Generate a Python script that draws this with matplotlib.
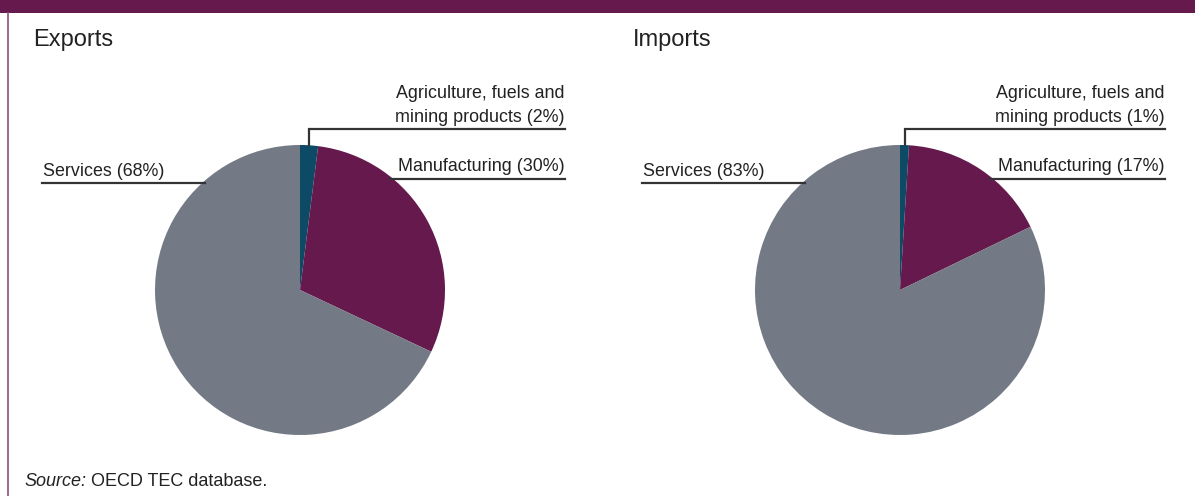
import matplotlib.pyplot as plt
import numpy as np

# Shares of trade by sector (percent)
sectors = ["Agriculture, fuels and\nmining products", "Manufacturing", "Services"]
exports_share = [2, 30, 68]
imports_share = [1, 17, 83]
panel_titles = ["Exports", "Imports"]
source_note = "OECD TEC database."

colors = ["#0c4a66", "#65194c", "#737a85"]
text_color = "#222222"
line_color = "#333333"
frame_color = "#65194c"

plt.rcParams["font.family"] = ["Liberation Sans", "DejaVu Sans"]

W, H = 1195, 496
fig = plt.figure(figsize=(W / 100, H / 100), dpi=100)
ax = fig.add_axes([0, 0, 1, 1])

radius = 145
label_size = 12.9


def draw_panel(x0, shares, title):
    cx, cy = x0 + 300, H - 290
    wedges, _ = ax.pie(shares, colors=colors, startangle=90, counterclock=False,
                       center=(cx, cy), radius=radius, frame=False,
                       wedgeprops=dict(linewidth=0))
    ax.text(x0 + 33, H - 40, title, fontsize=17, color=text_color,
            va="center", ha="left")

    right_end = x0 + 565
    # Agriculture: vertical leader from wedge middle, then horizontal rule
    w = wedges[0]
    mid = np.deg2rad((w.theta1 + w.theta2) / 2)
    px, py = cx + radius * np.cos(mid), cy + radius * np.sin(mid)
    y_rule = H - 129
    ax.plot([px, px, right_end], [py, y_rule, y_rule], color=line_color, lw=1.6,
            solid_joinstyle="miter")
    ax.text(right_end, y_rule + 3, f"{sectors[0]} ({shares[0]}%)", fontsize=label_size,
            color=text_color, ha="right", va="bottom", linespacing=1.55)

    # Manufacturing: horizontal rule from the pie edge
    y_rule = H - 179
    dy = y_rule - cy
    ex = cx + np.sqrt(radius ** 2 - dy ** 2)
    ax.plot([ex - 3, right_end], [y_rule, y_rule], color=line_color, lw=1.6)
    ax.text(right_end, y_rule + 4, f"{sectors[1]} ({shares[1]}%)", fontsize=label_size,
            color=text_color, ha="right", va="bottom")

    # Services: horizontal rule running into the pie edge
    y_rule = H - 183
    dy = y_rule - cy
    ex = cx - np.sqrt(radius ** 2 - dy ** 2)
    ax.plot([x0 + 42, ex + 3], [y_rule, y_rule], color=line_color, lw=1.6)
    ax.text(x0 + 43, y_rule + 3, f"{sectors[2]} ({shares[2]}%)", fontsize=label_size,
            color=text_color, ha="left", va="bottom")


draw_panel(0, exports_share, panel_titles[0])
draw_panel(600, imports_share, panel_titles[1])

# Frame: top band and left rule
ax.add_patch(plt.Rectangle((0, H - 13), W, 13, color=frame_color, lw=0))
ax.plot([8.5, 8.5], [0, H - 13], color="#8e4f7c", lw=1.2)

ax.set_xlim(0, W)
ax.set_ylim(0, H)
ax.set_aspect("equal")
ax.axis("off")

# Source line: italic lead-in followed by the note
src = ax.text(24, H - 482, "Source:", fontsize=13, style="italic", color=text_color,
              ha="left", va="center")
renderer = fig.canvas.get_renderer()
bb = src.get_window_extent(renderer=renderer)
ax.text(bb.x1 + 5, H - 482, source_note, fontsize=13, color=text_color,
        ha="left", va="center")

fig.savefig("out.png", dpi=100)
